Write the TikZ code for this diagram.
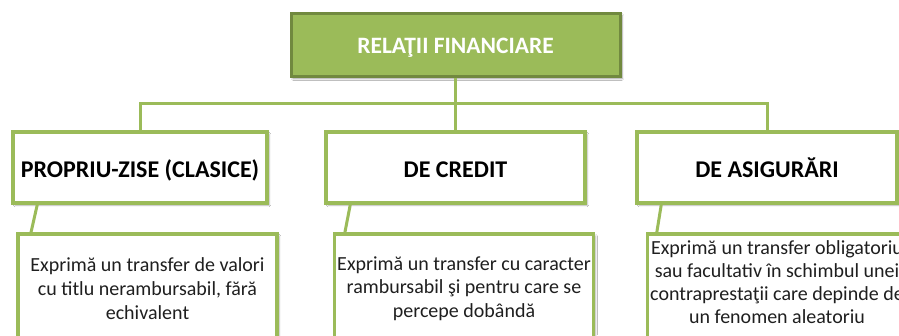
\documentclass[tikz,border=0pt]{standalone}
\usepackage{fontspec}
\setmainfont{Carlito}
\usetikzlibrary{calc,shadows.blur}
\definecolor{grn}{HTML}{9BBB59}
\definecolor{dgrn}{HTML}{71893F}
\definecolor{txt}{HTML}{1F1F1F}
\tikzset{
  conn/.style={draw=grn,line width=3pt},
  topbox/.style={draw=dgrn,fill=grn,line width=3pt,minimum width=329pt,minimum height=63pt,inner sep=0pt,
    text height=17.8pt,text depth=0pt,
    text=white,font=\fontsize{23.5}{27}\selectfont\bfseries,blur shadow={shadow xshift=2pt,shadow yshift=-2.5pt,shadow blur steps=6,shadow opacity=40}},
  catbox/.style={draw=grn,fill=white,line width=3.5pt,minimum height=71pt,inner sep=0pt,
    text height=19.5pt,text depth=0pt,
    text=black,font=\fontsize{24}{28}\selectfont\bfseries,blur shadow={shadow xshift=2pt,shadow yshift=-2pt,shadow blur steps=6,shadow opacity=30}},
  descbox/.style={draw=grn,fill=white,line width=3.5pt,minimum height=108pt,minimum width=259pt,inner sep=0pt,
    blur shadow={shadow xshift=2pt,shadow yshift=-2pt,shadow blur steps=6,shadow opacity=30}},
  desctext/.style={text=txt,align=center,inner sep=0pt}
}
\begin{document}
\begin{tikzpicture}[x=1pt,y=-1pt]
\path[use as bounding box] (0,0) rectangle (899,335);
\clip (0,0) rectangle (899,335);
\fill[white] (0,0) rectangle (899,335);
\coordinate (bus) at (455.5,103);
\coordinate (l2aPos) at (140,167.5);
\coordinate (l2bPos) at (455.5,167.5);
\coordinate (l2cPos) at (767,167.5);
\draw[conn] ($(l2aPos)+(0,-35.5)$) |- (bus) -| ($(l2cPos)+(0,-35.5)$);
\node[topbox] (top) at (455.5,44.5) {RELAŢII FINANCIARE};
\draw[conn] (top.south) -- ($(l2bPos)+(0,-35.5)$);
\node[catbox,minimum width=254pt] (l2a) at (l2aPos) {PROPRIU-ZISE (CLASICE)};
\node[catbox,minimum width=259pt] (l2b) at (l2bPos) {DE CREDIT};
\node[catbox,minimum width=260pt] (l2c) at (l2cPos) {DE ASIGURĂRI};
\draw[conn] ($(l2a.south west)+(26,0)$) -- ($(l2a.south west)+(19,31)$);
\draw[conn] ($(l2b.south west)+(26,0)$) -- ($(l2b.south west)+(20,31)$);
\draw[conn] ($(l2c.south west)+(26,0)$) -- ($(l2c.south west)+(21,31)$);
\node[descbox] (l3a) at (147.5,288) {};
\node[descbox] (l3b) at (464,288) {};
\node[descbox] (l3c) at (777,288) {};
\node[desctext,font=\fontsize{20}{23.7}\selectfont] (l3atext) at (147.5,288.5) {Exprimă un transfer de valori\\cu titlu nerambursabil, fără\\echivalent};
\node[desctext,font=\fontsize{20}{23.7}\selectfont] (l3btext) at (464,288.5) {Exprimă un transfer cu caracter\\rambursabil şi pentru care se\\percepe dobândă};
\node[desctext,font=\fontsize{20}{23}\selectfont] (l3ctext) at (777,282) {Exprimă un transfer obligatoriu\\sau facultativ în schimbul unei\\contraprestaţii care depinde de\\un fenomen aleatoriu};
\end{tikzpicture}
\end{document}
